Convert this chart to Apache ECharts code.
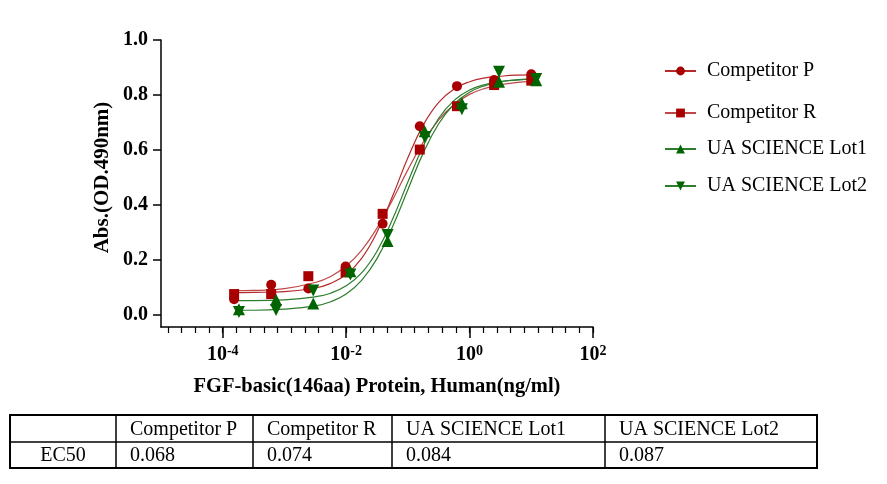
<!DOCTYPE html>
<html><head><meta charset="utf-8">
<script src="https://cdn.jsdelivr.net/npm/echarts@6/dist/echarts.min.js"></script>
<style>html,body{margin:0;padding:0;background:#fff}#c{width:887px;height:484px}</style>
</head><body><div id="c"></div>
<script>
// ---------- data ----------
const seriesNames = ['Competitor P', 'Competitor R', 'UA SCIENCE Lot1', 'UA SCIENCE Lot2'];
const ec50Values = ['0.068', '0.074', '0.084', '0.087'];
const tableRowLabel = 'EC50';

const redConc = [10, 2.5, 0.625, 0.156, 0.039, 0.0098, 0.00244, 0.00061, 0.000153];
const greenConc = [12, 3, 0.75, 0.1875, 0.0469, 0.0117, 0.00293, 0.000732, 0.000183];
const compP = [0.875, 0.854, 0.832, 0.686, 0.331, 0.175, 0.095, 0.109, 0.056];
const compR = [0.852, 0.836, 0.759, 0.601, 0.367, 0.154, 0.140, 0.075, 0.075];
const lot1  = [0.853, 0.848, 0.770, 0.668, 0.268, 0.158, 0.041, 0.054, 0.020];
const lot2  = [0.858, 0.884, 0.748, 0.647, 0.290, 0.146, 0.088, 0.017, 0.010];

const redCurveX = [1.45e-4, 3.16e-4, 1e-3, 3.16e-3, 5.62e-3, 1e-2, 1.78e-2, 3.16e-2, 5.62e-2, 0.1, 0.178, 0.316, 0.562, 1, 1.78, 3.16, 5.62, 10];
const curveP = [0.080, 0.081, 0.084, 0.097, 0.114, 0.146, 0.205, 0.300, 0.430, 0.571, 0.691, 0.773, 0.822, 0.848, 0.862, 0.868, 0.872, 0.873];
const curveR = [0.087, 0.088, 0.095, 0.117, 0.139, 0.177, 0.234, 0.315, 0.417, 0.527, 0.628, 0.709, 0.765, 0.802, 0.824, 0.837, 0.845, 0.849];
const greenCurveX = [1.82e-4, 3.16e-4, 1e-3, 3.16e-3, 5.62e-3, 1e-2, 1.78e-2, 3.16e-2, 5.62e-2, 0.1, 0.178, 0.316, 0.562, 1, 1.78, 3.16, 5.62, 12];
const curveLot1 = [0.051, 0.051, 0.054, 0.065, 0.078, 0.105, 0.152, 0.231, 0.346, 0.483, 0.614, 0.715, 0.780, 0.818, 0.838, 0.849, 0.854, 0.858];
const curveLot2 = [0.016, 0.016, 0.020, 0.032, 0.047, 0.075, 0.125, 0.204, 0.319, 0.455, 0.589, 0.695, 0.767, 0.810, 0.834, 0.848, 0.855, 0.859];

const xMajorTicks = [1e-4, 1e-2, 1, 100];
const yTicks = [0, 0.2, 0.4, 0.6, 0.8, 1.0];
// minor ticks every 2/9 decade, anchored on 10^-4
const xMinorTicks = [];
for (let k = -4; k <= 27; k++) xMinorTicks.push(Math.pow(10, -4 + 2 * k / 9));

// ---------- styling ----------
const FONT = '"Liberation Serif", "Times New Roman", serif';
const styles = [
  { symbol: 'circle', rotate: 0, mark: '#a80000', line: '#b52a2a' },
  { symbol: 'rect', rotate: 0, mark: '#a80000', line: '#c24848' },
  { symbol: 'triangle', rotate: 0, mark: '#006400', line: '#2c7d2c' },
  { symbol: 'triangle', rotate: 180, mark: '#006400', line: '#2c7d2c' }
];
const pointSets = [[redConc, compP], [redConc, compR], [greenConc, lot1], [greenConc, lot2]];
const curveSets = [[redCurveX, curveP], [redCurveX, curveR], [greenCurveX, curveLot1], [greenCurveX, curveLot2]];
const zip = (xs, ys) => xs.map((x, i) => [x, ys[i]]);

const series = [];
seriesNames.forEach((name, i) => {
  const s = styles[i];
  series.push({
    name, type: 'line', data: zip(curveSets[i][0], curveSets[i][1]),
    smooth: 0.45, showSymbol: false,
    symbol: s.symbol, symbolSize: s.symbol === 'rect' ? 9 : 10, symbolRotate: s.rotate,
    itemStyle: { color: s.mark }, lineStyle: { color: s.line, width: 1.2 },
    z: 2, silent: true, animation: false
  });
});
seriesNames.forEach((name, i) => {
  const s = styles[i];
  series.push({
    name, type: 'scatter', data: zip(pointSets[i][0], pointSets[i][1]),
    symbol: s.symbol, symbolSize: s.symbol === 'rect' ? 10 : (s.symbol === 'circle' ? 10 : 12), symbolRotate: s.rotate,
    itemStyle: { color: s.mark, opacity: 1 }, z: 3, silent: true, animation: false
  });
});

const legendTops = [56, 98, 134, 171];
const legends = seriesNames.map((name, i) => ({
  data: [name], left: 659, top: legendTops[i], orient: 'vertical',
  itemWidth: 31, itemHeight: 11, selectedMode: false,
  textStyle: { fontFamily: FONT, fontSize: 20, color: '#000', padding: [0, 0, 0, 6] }
}));

// ---------- table (graphic) ----------
const tblLeft = 10, tblRight = 817, tblTop = 415, tblMid = 442, tblBottom = 468;
const colEdges = [116, 253, 392, 605];
const graphic = [];
graphic.push({ type: 'rect', shape: { x: tblLeft, y: tblTop, width: tblRight - tblLeft, height: tblBottom - tblTop },
  style: { fill: 'none', stroke: '#000', lineWidth: 2 } });
graphic.push({ type: 'line', shape: { x1: tblLeft, y1: tblMid, x2: tblRight, y2: tblMid }, style: { stroke: '#000', lineWidth: 1.5 } });
colEdges.forEach(x => graphic.push({ type: 'line', shape: { x1: x, y1: tblTop, x2: x, y2: tblBottom }, style: { stroke: '#000', lineWidth: 1.5 } }));
seriesNames.forEach((name, i) => {
  graphic.push({ type: 'text', x: colEdges[i] + 14, y: (tblTop + tblMid) / 2 + 1,
    style: { text: name, font: '20px ' + FONT, fill: '#000', verticalAlign: 'middle' } });
  graphic.push({ type: 'text', x: colEdges[i] + 14, y: (tblMid + tblBottom) / 2 + 1,
    style: { text: ec50Values[i], font: '20px ' + FONT, fill: '#000', verticalAlign: 'middle' } });
});
graphic.push({ type: 'text', x: (tblLeft + colEdges[0]) / 2, y: (tblMid + tblBottom) / 2 + 1,
  style: { text: tableRowLabel, font: '20px ' + FONT, fill: '#000', align: 'center', verticalAlign: 'middle' } });

const chart = echarts.init(document.getElementById('c'), null, { renderer: 'canvas' });
chart.setOption({
  animation: false,
  backgroundColor: '#fff',
  grid: { left: 161, right: 294, top: 40, bottom: 157, containLabel: false },
  xAxis: [{
    type: 'log', logBase: 10, min: 1e-5, max: 100, position: 'bottom',
    name: 'FGF-basic(146aa) Protein, Human(ng/ml)', nameLocation: 'middle', nameGap: 49,
    nameTextStyle: { fontFamily: FONT, fontSize: 20.5, fontWeight: 'bold', color: '#000' },
    axisLine: { show: true, onZero: false, lineStyle: { color: '#000', width: 1.5 } },
    axisTick: { show: true, length: 11, customValues: xMajorTicks, lineStyle: { color: '#000', width: 1.5 } },
    splitLine: { show: false },
    axisLabel: {
      customValues: xMajorTicks, margin: 17,
      formatter: v => '{b|10}{s|' + Math.round(Math.log10(v)) + '}',
      rich: {
        b: { fontFamily: FONT, fontSize: 20, fontWeight: 'bold', color: '#000', lineHeight: 22 },
        s: { fontFamily: FONT, fontSize: 14, fontWeight: 'bold', color: '#000', lineHeight: 22, verticalAlign: 'top' }
      }
    }
  }, {
    type: 'log', logBase: 10, min: 1e-5, max: 100, position: 'bottom', offset: 0,
    axisLine: { show: false, onZero: false }, axisLabel: { show: false }, splitLine: { show: false },
    axisTick: { show: true, length: 6, customValues: xMinorTicks, lineStyle: { color: '#000', width: 1.2 } }
  }],
  yAxis: {
    type: 'value', min: -0.045, max: 1.0,
    name: 'Abs.(OD.490nm)', nameLocation: 'middle', nameGap: 48,
    nameTextStyle: { fontFamily: FONT, fontSize: 21, fontWeight: 'bold', color: '#000', padding: [0, 0, 0, 12] },
    axisLine: { show: true, onZero: false, lineStyle: { color: '#000', width: 1.5 } },
    axisTick: { show: true, length: 8, customValues: yTicks, lineStyle: { color: '#000', width: 1.5 } },
    splitLine: { show: false },
    axisLabel: { customValues: yTicks, margin: 13, formatter: v => v.toFixed(1),
      fontFamily: FONT, fontSize: 20, fontWeight: 'bold', color: '#000' }
  },
  legend: legends,
  series,
  graphic
});
</script></body></html>
